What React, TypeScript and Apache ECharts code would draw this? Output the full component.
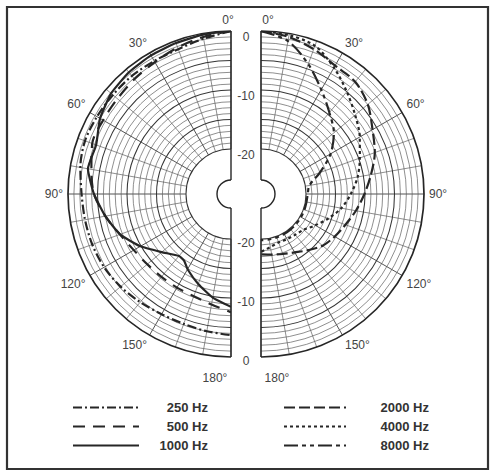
import React, { useEffect, useRef } from "react";
import * as echarts from "echarts";

// polar response, dB relative to 0° (angle in degrees from front)
const ANGLES = [0, 10, 20, 30, 40, 50, 60, 70, 80, 90, 100, 110, 120, 130, 140, 150, 160, 170, 180];
const ANGLES_1000 = [0, 10, 20, 30, 40, 50, 60, 70, 80, 90, 100, 110, 120, 130, 140, 145, 150, 160, 170, 180];

const DB_250 = [0, -0.9, -1.5, -1.6, -1.5, -1.5, -1.4, -1.3, -1.7, -2.3, -2.5, -2.6, -2.8, -3.2, -3.7, -4.1, -4.2, -4.0, -3.7];
const DB_500 = [0, -0.6, -1.2, -1.8, -2.2, -2.5, -2.6, -2.6, -3.6, -4.4, -6.0, -7.6, -8.6, -9.1, -9.3, -9.3, -9.2, -8.6, -7.6];
const DB_1000 = [0, -0.2, -0.4, -0.5, -0.7, -1.1, -2.0, -3.3, -3.0, -4.4, -6.0, -7.6, -9.9, -12.3, -13.9, -13.8, -12.9, -11.4, -9.8, -8.5];
const DB_2000 = [0, -0.6, -1.5, -2.5, -2.8, -4.0, -5.8, -7.1, -8.7, -10.1, -11.3, -12.4, -13.2, -14.0, -15.2, -16.2, -16.8, -17.2, -17.4];
const DB_4000 = [0, -0.3, -0.9, -2.9, -5.0, -6.8, -8.3, -9.8, -11.0, -12.4, -13.8, -15.5, -17.0, -18.2, -18.6, -18.8, -18.9, -18.5, -17.8];
const DB_8000 = [0, -1.3, -4.2, -7.2, -9.6, -11.5, -14.0, -17.0, -19.3, -19.7, -19.8, -19.8, -19.8, -19.8, -19.8, -19.8, -19.8, -19.8, -19.8];

// grid rings, one per dB
const RING_DB = [-20, -19, -18, -17, -16, -15, -14, -13, -12, -11, -10, -9, -8, -7, -6, -5, -4, -3, -2, -1, 0];
const LEFT_NAMES = ["250 Hz", "500 Hz", "1000 Hz"];
const RIGHT_NAMES = ["2000 Hz", "4000 Hz", "8000 Hz"];
const RING_LABELS = [0, -10, -20];

const CX_L = 231;
const CX_R = 261;
const CY = 194;
const R_IN = 45;
const R_OUT = 163;
const BUMP = 14;
const INK = "#262626";
const GRID = "#5e5e5e";
const FONT = "'Liberation Sans', Arial, sans-serif";

const pairs = (angles: number[], db: number[]) => angles.map((a, i) => [db[i], a]);
const ringR = (db: number) => R_IN + ((db + 20) / 20) * (R_OUT - R_IN);

const angleAxis = (clockwise: boolean, polarIndex: number) => {
  // 0° and 180° sit beside the straight edge, away from the other half
  const side = clockwise ? "r" : "l";
  return {
    polarIndex,
    type: "value",
    min: 0,
    max: 180,
    interval: 30,
    startAngle: 90,
    endAngle: clockwise ? -90 : 270,
    clockwise,
    axisLine: { show: false },
    axisTick: { show: false },
    minorTick: { show: false, splitNumber: 3 },
    splitLine: { lineStyle: { color: "#404040", width: 0.9 } },
    minorSplitLine: { show: true, lineStyle: { color: GRID, width: 0.7 } },
    axisLabel: {
      margin: 5,
      color: "#444",
      fontSize: 12,
      fontFamily: FONT,
      formatter: (v: number) => (v === 0 ? `{${side}0|${v}°}` : v === 180 ? `{${side}180|${v}°}` : `${v}°`),
      rich: {
        l0: { padding: [0, 6, 0, 0] },
        r0: { padding: [0, 0, 0, 14] },
        l180: { padding: [10, 32, 0, 0] },
        r180: { padding: [10, 0, 0, 32] },
      },
    },
  };
};

const radiusAxis = (polarIndex: number) => ({
  polarIndex,
  type: "value",
  min: -20,
  max: 0,
  interval: 5,
  axisLine: { show: false },
  axisTick: { show: false },
  axisLabel: { show: false },
  splitLine: { show: false },
});

export default function App() {
  const chartRef = useRef<HTMLDivElement>(null);

  useEffect(() => {
    if (!chartRef.current) return;
    const chart = echarts.init(chartRef.current, null, { renderer: "svg" });

    const edge = (cx: number, side: number) => [
      { type: "line", shape: { x1: cx, y1: CY - R_OUT, x2: cx, y2: CY - BUMP }, style: { stroke: INK, lineWidth: 1.4 }, z: 10 },
      { type: "line", shape: { x1: cx, y1: CY + BUMP, x2: cx, y2: CY + R_OUT }, style: { stroke: INK, lineWidth: 1.4 }, z: 10 },
      {
        type: "arc",
        shape: side < 0
          ? { cx, cy: CY, r: BUMP, startAngle: Math.PI / 2, endAngle: (3 * Math.PI) / 2, clockwise: true }
          : { cx, cy: CY, r: BUMP, startAngle: -Math.PI / 2, endAngle: Math.PI / 2, clockwise: true },
        style: { stroke: INK, lineWidth: 1.4, fill: "none" },
        z: 10,
      },
    ];

    const ringTexts: any[] = [];
    RING_LABELS.forEach((db) => {
      const r = ringR(db);
      [CY - r + 6, CY + r + 4].forEach((y) => {
        ringTexts.push({
          type: "text",
          x: (CX_L + CX_R) / 2,
          y,
          style: { text: `${db}`, fill: "#444", font: `12px ${FONT}`, align: "center", verticalAlign: "middle" },
          z: 10,
        });
      });
    });

    // half rings drawn through the polar radius scale
    const rings = (polarIndex: number, clockwise: boolean) => ({
      type: "custom",
      coordinateSystem: "polar",
      polarIndex,
      silent: true,
      z: 1,
      data: RING_DB.map((d) => [d, 0]),
      renderItem: (params: any, api: any) => {
        const cs = params.coordSys;
        const db = api.value(0);
        const p = api.coord([db, 0]);
        const r = Math.hypot(p[0] - cs.cx, p[1] - cs.cy);
        const major = db % 5 === 0;
        return {
          type: "arc",
          shape: { cx: cs.cx, cy: cs.cy, r, startAngle: -Math.PI / 2, endAngle: Math.PI / 2, clockwise },
          style: {
            fill: "none",
            stroke: db === 0 ? INK : major ? "#353535" : GRID,
            lineWidth: db === 0 ? 1.7 : major ? 1.05 : 0.7,
          },
        };
      },
    });

    const line = (name: string, polarIndex: number, angles: number[], db: number[], dash: any, smooth: number) => ({
      name,
      type: "line",
      coordinateSystem: "polar",
      polarIndex,
      symbol: "none",
      smooth,
      data: pairs(angles, db),
      lineStyle: { color: INK, width: 2.2, type: dash },
      itemStyle: { color: INK },
      z: 5,
    });

    const legend = (names: string[], left: number, iconW: number, textW: number) => ({
      data: names,
      orient: "vertical",
      left,
      top: 401,
      padding: 0,
      itemWidth: iconW,
      itemHeight: 14,
      itemGap: 6,
      selectedMode: false,
      itemStyle: { opacity: 0, borderWidth: 0 },
      formatter: (n: string) => `{t|${n}}`,
      textStyle: { rich: { t: { width: textW, align: "right", fontWeight: "bold", fontSize: 13, color: "#333", fontFamily: FONT } } },
    });

    chart.setOption({
      animation: false,
      backgroundColor: "#fff",
      polar: [
        { center: [CX_L, CY], radius: [R_IN, R_OUT] },
        { center: [CX_R, CY], radius: [R_IN, R_OUT] },
      ],
      angleAxis: [angleAxis(false, 0), angleAxis(true, 1)],
      radiusAxis: [radiusAxis(0), radiusAxis(1)],
      legend: [legend(LEFT_NAMES, 72, 66, 64), legend(RIGHT_NAMES, 283, 62, 78)],
      graphic: [
        { type: "rect", shape: { x: 7, y: 7, width: 481, height: 462 }, style: { fill: "none", stroke: "#333", lineWidth: 2.2 }, z: 20 },
        ...edge(CX_L, -1),
        ...edge(CX_R, 1),
        ...ringTexts,
      ],
      series: [
        rings(0, false),
        rings(1, true),
        line("250 Hz", 0, ANGLES, DB_250, [9, 3, 2, 3], 0.3),
        line("500 Hz", 0, ANGLES, DB_500, [12, 8], 0.3),
        line("1000 Hz", 0, ANGLES_1000, DB_1000, "solid", 0.15),
        line("2000 Hz", 1, ANGLES, DB_2000, [11, 4], 0.3),
        line("4000 Hz", 1, ANGLES, DB_4000, [3, 3], 0.3),
        line("8000 Hz", 1, ANGLES, DB_8000, [14, 4, 4, 4, 4, 4], 0.3),
      ],
    });

    return () => chart.dispose();
  }, []);

  return (
    <div
      ref={chartRef}
      style={{ position: "fixed", left: 0, top: 0, width: 495, height: 476, background: "#fff" }}
    />
  );
}
